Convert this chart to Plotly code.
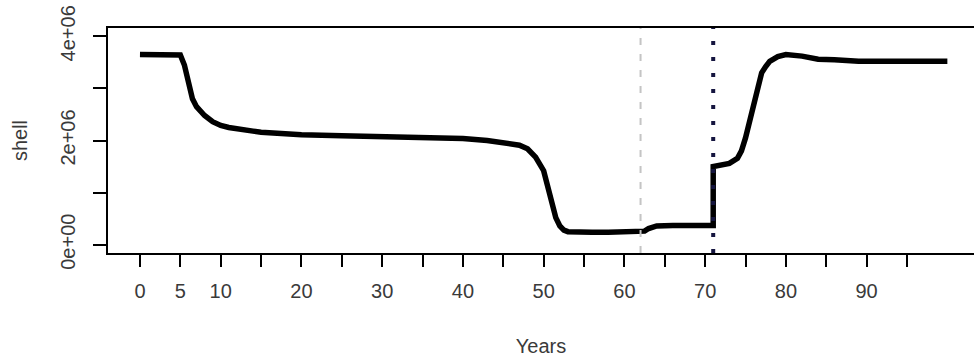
import plotly.graph_objects as go

# Data (years, shell in millions)
years = [0, 1, 2, 3, 4, 5, 5.5, 6, 6.5, 7, 8, 9, 10, 11, 12, 13, 14, 15, 17, 20,
         25, 30, 35, 40, 43, 45, 47, 48, 49, 50, 50.5, 51, 51.5, 52, 52.5, 53, 54,
         56, 58, 60, 62, 62.5, 63, 64, 66, 68, 70, 71, 71, 72, 73, 74, 74.5, 75,
         75.5, 76, 76.5, 77, 77.5, 78, 79, 80, 82, 83, 84, 86, 88, 89, 92, 96, 100]
shell_m = [3.65, 3.65, 3.65, 3.65, 3.65, 3.64, 3.45, 3.08, 2.80, 2.65, 2.48, 2.36,
           2.29, 2.25, 2.22, 2.20, 2.18, 2.16, 2.14, 2.11, 2.09, 2.07, 2.06, 2.04,
           2.00, 1.96, 1.91, 1.84, 1.68, 1.42, 1.15, 0.85, 0.52, 0.36, 0.28, 0.25,
           0.24, 0.24, 0.24, 0.24, 0.24, 0.26, 0.31, 0.36, 0.37, 0.37, 0.37, 0.37,
           1.50, 1.52, 1.56, 1.66, 1.80, 2.05, 2.35, 2.75, 3.05, 3.30, 3.42, 3.52,
           3.61, 3.65, 3.62, 3.60, 3.56, 3.55, 3.53, 3.52, 3.52, 3.52, 3.52]
shell = [v * 1e6 for v in shell_m]

event_grey = 62
event_dark = 71

x_tickvals = list(range(0, 100, 5))
x_ticktext = [str(v) if (v <= 10 or v % 10 == 0) else "" for v in x_tickvals]
y_tickvals = [0, 1e6, 2e6, 3e6, 4e6]
y_ticktext = ["0e+00", "", "2e+06", "", "4e+06"]

FONT = "Liberation Sans, Arial, sans-serif"
TXT = "#3a3a3a"

fig = go.Figure()
fig.add_trace(go.Scatter(x=years, y=shell, mode="lines",
                         line=dict(color="black", width=5.5),
                         showlegend=False, hoverinfo="skip"))

fig.add_vline(x=event_grey, line=dict(color="#c4c4c4", width=2, dash="7px,9px"),
              layer="above")
fig.add_vline(x=event_dark, line=dict(color="#15153f", width=4, dash="4px,12px"),
              layer="above")

fig.update_layout(
    width=974, height=359,
    margin=dict(l=108, r=0, t=28, b=106),
    paper_bgcolor="white", plot_bgcolor="white",
    font=dict(family=FONT, size=20, color=TXT),
    showlegend=False,
)
fig.update_xaxes(
    range=[-3.96, 103.3], tickvals=x_tickvals, ticktext=x_ticktext,
    showgrid=False, zeroline=False, showline=True, mirror=True,
    linecolor="black", linewidth=1.5, ticks="outside", ticklen=12,
    tickwidth=1.5, tickcolor="black", ticklabelstandoff=7,
    tickfont=dict(family=FONT, size=20, color=TXT), ticklabeloverflow="allow",
    title=dict(text="Years", font=dict(family=FONT, size=20, color=TXT), standoff=38),
    automargin=False,
)
fig.update_yaxes(
    range=[-0.16e6, 4.16e6], tickvals=y_tickvals, ticktext=y_ticktext,
    showgrid=False, zeroline=False, showline=True, mirror=False,
    linecolor="black", linewidth=1.5, ticks="outside", ticklen=13,
    tickwidth=1.5, tickcolor="black", tickangle=-90, ticklabelstandoff=10,
    tickfont=dict(family=FONT, size=20, color=TXT), ticklabeloverflow="allow",
    title=dict(text="shell", font=dict(family=FONT, size=20, color=TXT), standoff=24),
    automargin=False,
)

fig.write_html("out.html", config={"displayModeBar": False},
               post_script="document.body.style.margin='0';")
